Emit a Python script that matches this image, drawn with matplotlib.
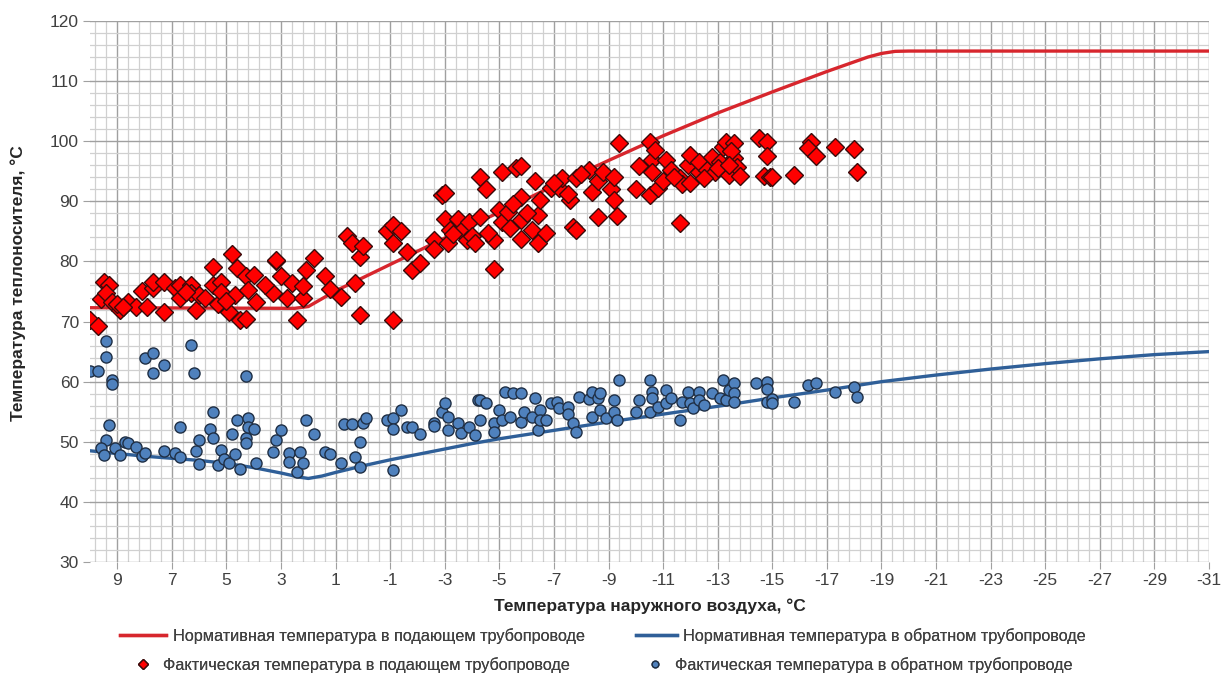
import numpy as np
import matplotlib
matplotlib.use("Agg")
import matplotlib.pyplot as plt
from matplotlib.ticker import MultipleLocator, FixedLocator

plt.rcParams['font.family'] = ['Liberation Sans', 'DejaVu Sans']
plt.rcParams['axes.unicode_minus'] = False

# ── нормативный график (подающий / обратный) ──
norm_x = [10, 2.5, 2.0, 1.5, 1, 0, -1, -3, -5, -7, -9, -11, -13, -15, -17, -18.5, -19, -19.5, -20, -31]
norm_supply = [72.3, 72.2, 72.5, 73.8, 75.1, 77.3, 79.5, 83.9, 88.2, 92.6, 96.8, 100.9, 104.7, 108.2,
               111.6, 114.0, 114.6, 114.95, 115.0, 115.0]

ret_x = [10, 8, 6, 5, 4, 3, 2.3, 2, 1.5, 1, 0, -1, -2, -3, -4, -5, -7, -9, -11, -13, -15, -17, -19,
         -21, -23, -25, -27, -29, -31]
norm_return = [48.5, 47.6, 46.9, 46.4, 45.7, 44.8, 44.1, 43.9, 44.3, 44.9, 46.0, 47.0, 47.9, 48.8, 49.7,
               50.5, 51.9, 53.3, 54.6, 55.9, 57.3, 58.6, 60.0, 61.1, 62.1, 63.0, 63.8, 64.5, 65.0]

# ── фактические замеры, подающий ──
fact_sup_x = [10.0, 9.7, 9.6, 9.5, 9.3, 9.4, 9.2, 8.9, 8.6, 8.3, 8.1, 7.9, 7.7, 7.7, 7.3, 7.3, 6.9, 6.7,
              6.7, 6.3, 6.3, 6.1, 6.0, 5.5, 5.5, 5.3, 5.2, 5.2, 4.9, 4.8, 4.7, 4.6, 4.5, 4.3, 4.3, 4.2,
              4.0, 3.9, 3.3, 3.2, 3.0, 2.8, 2.6, 2.4, 2.2, 2.2, 2.1, 1.8, 1.4, 1.2,
              9.0, 8.8, 6.5, 5.8, 5.0, 3.6, 3.2,
              0.8, 0.6, 0.4, 0.3, 0.1, 0.0, 0.1, -1.1, -0.9, -1.1, -1.4, -1.1, -1.6, -1.8, -2.1, -2.6,
              -2.6, -2.9, -3.0, -3.0, -3.1, -3.2, -3.5, -3.6, -3.9, -3.8, -4.0, -4.1, -4.3, -4.3, -4.5,
              -4.8, -4.8, -5.0, -5.1, -5.1, -5.3, -5.4, -5.6, -5.8, -5.8, -5.8, -5.8, -6.2, -6.3, -6.4,
              -6.5, -6.4, -6.7, -6.9, -7.2, -7.3, -7.6, -7.5, -7.7, -7.8, -7.8, -8.3, -8.4, -8.6, -8.6,
              -8.8, -9.1, -9.2, -9.2, -9.3, -9.4,
              -3.3, -4.6, -5.5, -6.0, -7.0, -8.0,
              -10.0, -10.1, -10.5, -10.5, -10.6, -10.6, -10.7, -10.8, -11.0, -11.1, -11.3, -11.6, -11.6,
              -11.7, -11.9, -12.0, -12.0, -12.3, -12.3, -12.6, -12.9, -12.8, -13.1, -13.2, -13.3, -13.4,
              -13.6, -13.6, -13.7, -13.8, -13.5, -14.5, -14.8, -14.8, -14.7, -14.9, -15.0, -15.8, -16.4,
              -16.3, -16.6, -17.3, -18.0, -18.1,
              -11.4, -12.5, -13.0, -13.4]
fact_sup_y = [70.2, 69.3, 73.7, 76.6, 76.1, 74.8, 73.3, 71.9, 73.3, 72.5, 75.1, 72.5, 75.5, 76.6, 76.6,
              71.6, 75.5, 73.9, 76.1, 76.1, 74.7, 71.9, 74.4, 79.1, 76.1, 73.0, 76.6, 75.0, 71.6, 81.2,
              74.4, 78.9, 70.2, 70.5, 77.5, 75.2, 77.7, 73.3, 74.8, 80.0, 77.5, 73.9, 76.4, 70.2, 73.9,
              75.9, 78.6, 80.5, 77.6, 75.4,
              73.0, 72.5, 75.0, 74.0, 73.5, 76.0, 80.3,
              74.1, 84.2, 83.1, 76.4, 80.8, 82.6, 71.1, 70.2, 85.0, 86.1, 85.0, 83.0, 81.6, 78.6, 79.8,
              83.6, 82.1, 91.0, 91.4, 87.0, 83.0, 85.2, 87.0, 85.0, 86.6, 83.6, 84.2, 83.0, 94.1, 87.4,
              92.0, 83.6, 78.7, 88.6, 86.6, 94.9, 88.3, 85.5, 95.5, 95.8, 90.8, 86.9, 83.8, 85.2, 93.3,
              87.7, 90.2, 83.0, 84.7, 92.2, 92.2, 93.8, 90.2, 91.2, 85.8, 93.8, 85.2, 95.2, 91.6, 93.3,
              87.4, 94.9, 92.0, 94.1, 90.2, 87.6, 99.7,
              84.5, 84.8, 89.5, 88.0, 93.0, 94.5,
              92.0, 95.8, 99.8, 91.0, 96.9, 94.9, 98.5, 92.2, 93.4, 96.8, 95.2, 93.8, 86.4, 92.9, 96.0,
              97.7, 93.1, 94.9, 96.6, 95.2, 94.9, 97.4, 96.6, 99.1, 99.9, 94.4, 99.7, 97.2, 95.7, 94.2,
              98.4, 100.5, 99.8, 97.5, 94.2, 94.1, 94.0, 94.4, 99.8, 98.8, 97.5, 99.1, 98.7, 94.9,
              94.0, 93.8, 95.5, 96.0]

# ── фактические замеры, обратный ──
fact_ret_x = [10.0, 9.7, 9.4, 9.4, 9.2, 9.2, 9.3, 9.4, 9.6, 9.5, 9.1, 8.9, 8.7, 8.6, 8.3, 8.1, 8.0, 8.0,
              7.7, 7.7, 7.3, 7.3, 6.9, 6.7, 6.7, 6.3, 6.2, 6.1, 6.0, 6.0, 5.6, 5.5, 5.5, 5.3, 5.2, 5.1,
              4.9, 4.8, 4.7, 4.6, 4.5, 4.3, 4.3, 4.3, 4.2, 4.2, 4.0, 3.9, 3.3, 3.2, 3.0, 2.7, 2.7, 2.4,
              2.3, 2.2, 2.1, 1.8, 1.4, 1.2, 0.8, 0.7, 0.4, 0.3, 0.1, 0.1, 0.0, -0.1, -0.9, -1.1, -1.1,
              -1.1, -1.4, -1.6, -1.8, -2.1, -2.6, -2.6, -2.9, -3.0, -3.1, -3.1, -3.5, -3.6, -3.9, -4.2,
              -4.1, -4.3, -4.5, -4.3, -4.8, -4.8, -5.0, -5.1, -5.2, -5.5, -5.8, -5.4, -5.8, -5.9, -6.2,
              -6.3, -6.4, -6.5, -6.5, -6.7, -6.9, -7.1, -7.2, -7.5, -7.5, -7.7, -7.8, -7.9, -8.3, -8.4,
              -8.4, -8.6, -8.7, -8.7, -8.9, -9.2, -9.2, -9.3, -9.4, -10.0, -10.1, -10.5, -10.6, -10.6,
              -10.5, -10.8, -11.1, -11.1, -11.3, -11.6, -11.7, -11.9, -12.0, -12.1, -12.3, -12.3, -12.5,
              -12.8, -13.1, -13.2, -13.3, -13.4, -13.6, -13.6, -13.6, -14.4, -14.8, -14.8, -14.8, -15.0,
              -15.0, -15.8, -16.3, -16.6, -17.3, -18.0, -18.1]
fact_ret_y = [61.8, 61.8, 66.8, 64.1, 60.3, 59.6, 52.8, 50.3, 48.9, 47.8, 48.9, 47.8, 50.0, 49.8, 49.1,
              47.6, 48.2, 64.0, 64.7, 61.5, 62.8, 48.5, 48.2, 52.5, 47.5, 66.1, 61.5, 48.5, 50.3, 46.3,
              52.1, 55.0, 50.7, 46.1, 48.7, 47.2, 46.5, 51.3, 48.0, 53.6, 45.4, 50.7, 49.8, 60.9, 53.9,
              52.5, 52.2, 46.4, 48.3, 50.3, 51.9, 48.1, 46.7, 45.0, 48.3, 46.4, 53.7, 51.3, 48.3, 48.0,
              46.4, 52.9, 52.9, 47.5, 50.0, 45.8, 53.1, 53.9, 53.6, 53.9, 52.2, 45.3, 55.3, 52.5, 52.5,
              51.3, 53.2, 52.7, 55.0, 56.5, 54.1, 52.0, 53.1, 51.4, 52.5, 56.9, 51.1, 56.9, 56.5, 53.6,
              53.1, 51.7, 55.3, 53.6, 58.3, 58.1, 58.1, 54.2, 53.3, 55.0, 54.2, 57.2, 51.9, 55.3, 53.6,
              53.6, 56.4, 56.7, 55.6, 55.8, 54.7, 53.1, 51.7, 57.5, 57.1, 54.2, 58.2, 57.2, 58.1, 55.3,
              53.9, 56.9, 55.0, 53.6, 60.3, 55.0, 56.9, 60.3, 58.3, 57.2, 55.0, 55.8, 58.6, 56.4, 57.2,
              53.6, 56.7, 58.3, 56.4, 55.6, 58.3, 56.9, 56.1, 58.1, 57.2, 60.3, 56.9, 58.6, 59.7, 58.1,
              56.7, 59.7, 60.0, 58.7, 56.7, 57.1, 56.5, 56.7, 59.4, 59.7, 58.3, 59.1, 57.5]

labels = ["Нормативная температура в подающем трубопроводе",
          "Фактическая температура в подающем трубопроводе",
          "Нормативная температура в обратном трубопроводе",
          "Фактическая температура в обратном трубопроводе"]

W, H = 1225, 678
fig = plt.figure(figsize=(W / 100, H / 100), dpi=100)
ax = fig.add_axes([90 / W, 1 - 562 / H, 1119 / W, 541 / H])

l1, = ax.plot(norm_x, norm_supply, color='#D7262D', lw=2.4, zorder=3)
l3, = ax.plot(ret_x, norm_return, color='#2F5F98', lw=2.4, zorder=3)
p2, = ax.plot(fact_sup_x, fact_sup_y, 'D', ms=8.8, mfc='#FF0000', mec='#3A0A0A', mew=1.0,
              ls='none', zorder=4)
p4, = ax.plot(fact_ret_x, fact_ret_y, 'o', ms=8, mfc='#4F81BD', mec='#1F2F45', mew=1.0,
              ls='none', zorder=4)

ax.set_xlim(10, -31)
ax.set_ylim(30, 120)
ax.xaxis.set_major_locator(FixedLocator(np.arange(-31, 10, 2)))
ax.xaxis.set_minor_locator(FixedLocator(np.arange(-31, 10.01, 0.4)))
ax.yaxis.set_major_locator(MultipleLocator(10))
ax.yaxis.set_minor_locator(MultipleLocator(2))
ax.grid(which='major', color='#A0A0A0', lw=1.0, zorder=0)
ax.grid(which='minor', color='#D0D0D0', lw=0.9, zorder=0)
ax.set_axisbelow(True)
for s in ax.spines.values():
    s.set_visible(False)
ax.tick_params(which='major', length=5, color='#A0A0A0', labelsize=12.5, labelcolor='#404040')
ax.tick_params(which='minor', length=0)
ax.tick_params(axis='x', pad=3)
ax.tick_params(axis='y', pad=3)

ax.set_xlabel("Температура наружного воздуха, °С", fontsize=12.5, fontweight='bold',
              color='#262626')
ax.set_ylabel("Температура теплоносителя, °С", fontsize=12.5, fontweight='bold',
              color='#262626')
ax.xaxis.set_label_coords(0.5, -0.068)
ax.yaxis.set_label_coords(-0.057, 0.516)

# легенда: по одной записи, как в Excel (у маркеров короче значок)
leg_kw = dict(loc='center left', frameon=False, fontsize=11.7, labelcolor='#404040',
              borderpad=0, borderaxespad=0, markerscale=0.6)
entries = [(l1, labels[0], 120, 636, 2.8, 0.45),
           (p2, labels[1], 135, 665, 1.0, 0.7),
           (l3, labels[2], 636, 636, 2.5, 0.4),
           (p4, labels[3], 647, 665, 1.0, 0.7)]
for h, lab, px, py, hl, tp in entries:
    lg = fig.legend([h], [lab], bbox_to_anchor=(px / W, 1 - py / H), handlelength=hl,
                    handletextpad=tp, **leg_kw)
    fig.add_artist(lg)

fig.savefig("out.png", dpi=100)
